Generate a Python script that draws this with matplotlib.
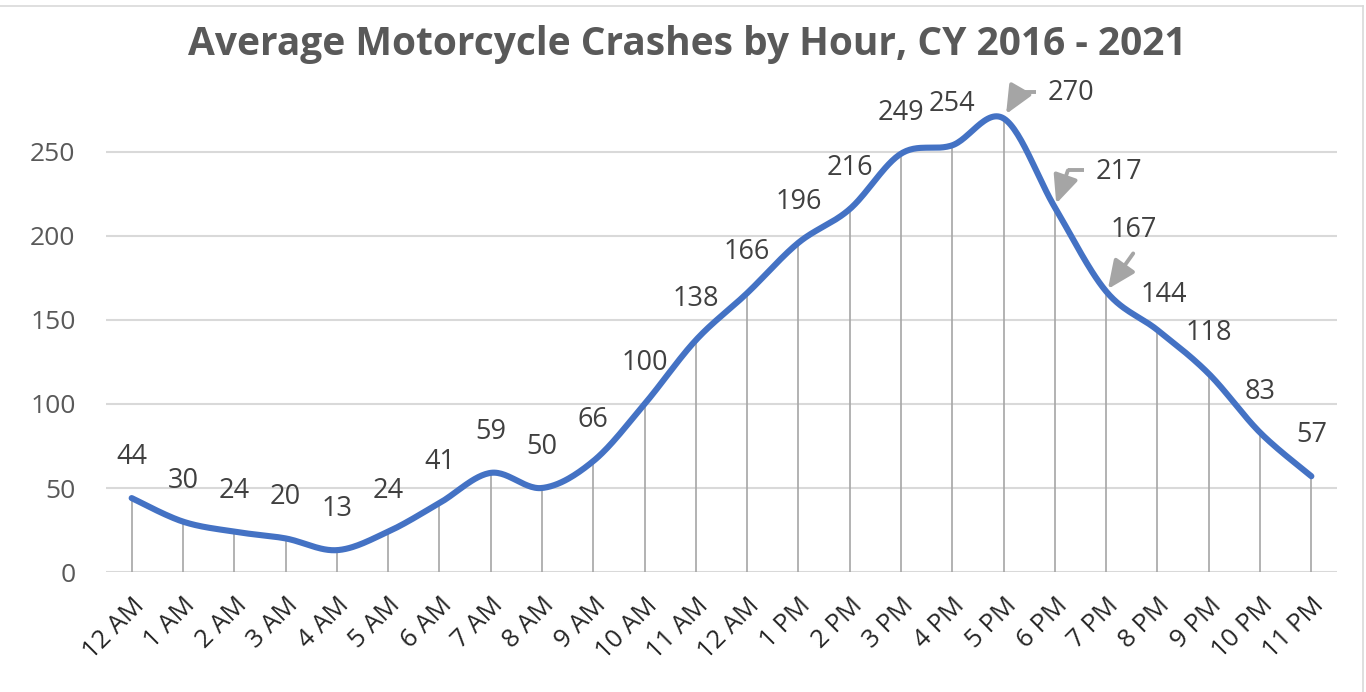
import matplotlib.pyplot as plt
import numpy as np
from matplotlib.lines import Line2D
from matplotlib.transforms import ScaledTranslation

hours = ['12 AM', '1 AM', '2 AM', '3 AM', '4 AM', '5 AM', '6 AM', '7 AM', '8 AM',
         '9 AM', '10 AM', '11 AM', '12 AM', '1 PM', '2 PM', '3 PM', '4 PM', '5 PM',
         '6 PM', '7 PM', '8 PM', '9 PM', '10 PM', '11 PM']
crashes = [44, 30, 24, 20, 13, 24, 41, 59, 50, 66, 100, 138, 166, 196, 216, 249,
           254, 270, 217, 167, 144, 118, 83, 57]
y_ticks = [0, 50, 100, 150, 200, 250]
title = 'Average Motorcycle Crashes by Hour, CY 2016 - 2021'

# label offsets in pixels (dx, dy up) for the few that Excel moved
label_moves = {17: (67, 25), 18: (64, 35), 19: (28, 61), 20: (6, 35)}
# arrow leaders: (tail dx, tail dy, elbow dx, elbow dy, tip dy) in pixels
leaders = {17: (32, 26, 15, 26, 5), 18: (29, 37, 13, 37, 4), 19: (27, 38, None, None, 3)}

FONT = 'Open Sans'
PX = 0.72  # points per pixel at dpi 100
GREY = '#A5A5A5'

fig = plt.figure(figsize=(13.66, 6.92), dpi=100)
ax = fig.add_axes([106 / 1366, 1 - 572 / 692, (1337 - 106) / 1366, (572 - 68) / 692])

# Excel-like smoothed line (Bezier through the points)
x = np.arange(len(crashes), dtype=float)
y = np.array(crashes, dtype=float)
px_ = np.concatenate([[x[0]], x, [x[-1]]])
py_ = np.concatenate([[y[0]], y, [y[-1]]])
sx, sy = [], []
t = np.linspace(0, 1, 30)
for i in range(1, len(px_) - 2):
    p0, p1, p2, p3 = [np.array([px_[j], py_[j]]) for j in (i - 1, i, i + 1, i + 2)]
    c1 = p1 + (p2 - p0) / 6
    c2 = p2 - (p3 - p1) / 6
    b = ((1 - t) ** 3)[:, None] * p1 + (3 * (1 - t) ** 2 * t)[:, None] * c1 \
        + (3 * (1 - t) * t ** 2)[:, None] * c2 + (t ** 3)[:, None] * p2
    sx.extend(b[:, 0])
    sy.extend(b[:, 1])

for yt in y_ticks:
    ax.axhline(yt, color='#D9D9D9', lw=1.5, zorder=1)
ax.vlines(x, 0, y, color='#A6A6A6', lw=1.2, zorder=2)
ax.plot(sx, sy, color='#4472C4', lw=4.4, solid_capstyle='round', zorder=3)

for i, v in enumerate(crashes):
    dx, dy = label_moves.get(i, (0, 41))
    ax.annotate(str(v), (i, v), xytext=(dx * PX, dy * PX), textcoords='offset points',
                ha='center', va='center', fontsize=19.5, color='#404040', family=FONT,
                zorder=5)

for i, (tx, ty, ex, ey, tipdy) in leaders.items():
    v = crashes[i]
    if ex is not None:
        # horizontal part of the elbow leader, in pixels around the point
        tr = fig.dpi_scale_trans + ScaledTranslation(i, v, ax.transData)
        ax.add_line(Line2D([tx / 100, ex / 100], [ty / 100, ey / 100], transform=tr,
                           color=GREY, lw=2.8, solid_capstyle='butt', zorder=6))
        start = (ex, ey)
    else:
        start = (tx, ty)
    ax.annotate('', xy=(i, v), xytext=(start[0] * PX, start[1] * PX),
                textcoords='offset points',
                arrowprops=dict(arrowstyle='-|>,head_length=0.85,head_width=0.38',
                                color=GREY, lw=2.8, shrinkA=0, shrinkB=tipdy * PX,
                                mutation_scale=20), zorder=6)

ax.set_xlim(-0.5, len(crashes) - 0.5)
ax.set_ylim(0, 300)
ax.set_yticks(y_ticks)
ax.set_xticks(x)
ax.set_xticklabels(hours, rotation=45, ha='right', rotation_mode='anchor',
                   fontsize=18.5, color='#262626', family=FONT)
for lab in ax.get_xticklabels():
    lab.set_transform(lab.get_transform() + ScaledTranslation(6 / 100, 0, fig.dpi_scale_trans))
for lab in ax.get_yticklabels():
    lab.set_fontsize(19)
    lab.set_color('#595959')
    lab.set_family(FONT)
ax.tick_params(axis='both', length=0)
ax.tick_params(axis='y', pad=22)
ax.tick_params(axis='x', pad=15)
for s in ax.spines.values():
    s.set_visible(False)

fig.text(687 / 1366, 1 - 45 / 692, title, ha='center', va='center', fontsize=28,
         fontweight='bold', color='#595959', family=FONT)

# chart-area frame edges visible in the crop
fig.add_artist(Line2D([0, 1363 / 1366], [1 - 6 / 692, 1 - 6 / 692], color='#D9D9D9', lw=1.2))
fig.add_artist(Line2D([1363 / 1366, 1363 / 1366], [0, 1 - 6 / 692], color='#D9D9D9', lw=1.2))

fig.savefig('out.png', dpi=100)
